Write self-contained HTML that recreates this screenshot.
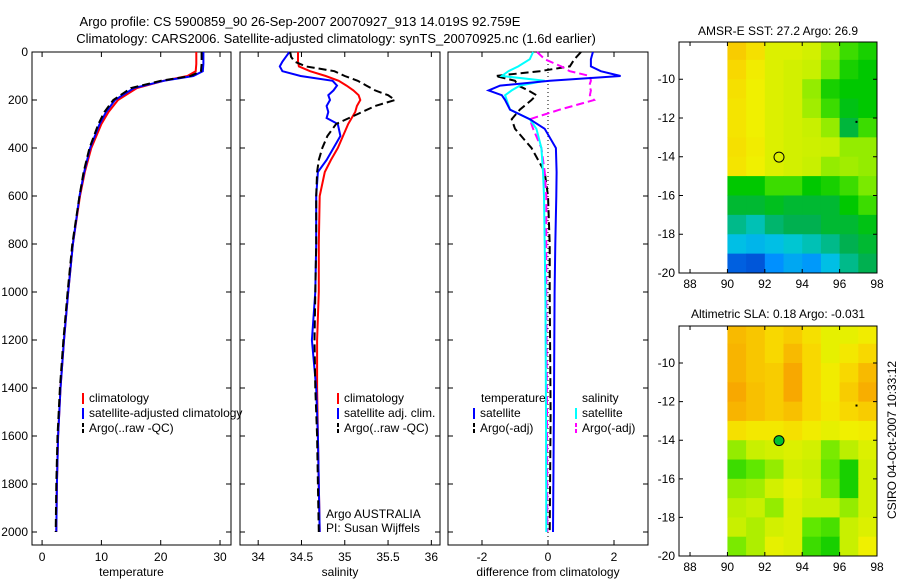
<!DOCTYPE html>
<html><head><meta charset="utf-8"><style>
html,body{margin:0;padding:0;background:#fff;}
svg{display:block;font-family:"Liberation Sans",sans-serif;}
</style></head><body>
<svg id="fig" width="900" height="580" viewBox="0 0 900 580" xmlns="http://www.w3.org/2000/svg">
<text x="300" y="26" text-anchor="middle" font-size="13">Argo profile: CS 5900859_90 26-Sep-2007 20070927_913 14.019S 92.759E</text>
<text x="336" y="43" text-anchor="middle" font-size="13">Climatology: CARS2006. Satellite-adjusted climatology: synTS_20070925.nc (1.6d earlier)</text>
<text x="778" y="35" text-anchor="middle" font-size="12">AMSR-E SST: 27.2 Argo: 26.9</text>
<text x="778" y="318" text-anchor="middle" font-size="12">Altimetric SLA: 0.18 Argo: -0.031</text>
<text transform="translate(896,440) rotate(-90)" text-anchor="middle" font-size="12">CSIRO 04-Oct-2007 10:33:12</text>
</svg>
<script>
// ---- profile data ----
const depthT = [0,50,80,100,120,150,200,250,300,400,500,600,800,1000,1200,1400,1600,1800,2000];
const tempClim = [26.0,26.0,25.9,24.5,20.5,16,12.8,11.2,10.0,8.3,7.2,6.4,5.2,4.4,3.7,3.1,2.7,2.5,2.4];
const tempSat = [27.2,27.2,27.1,25.5,20.5,15.5,12.3,10.8,9.7,8.1,7.1,6.3,5.2,4.4,3.7,3.1,2.7,2.5,2.4];
const tempArgo = [26.9,26.9,26.8,25.0,20.0,15.0,12.0,10.5,9.5,8.0,7.0,6.3,5.1,4.3,3.6,3.0,2.6,2.4,2.3];
const depthS = [0,20,40,60,80,100,120,140,160,180,200,225,250,275,300,350,400,450,500,600,800,1000,1200,1400,1600,1800,2000];
const salClim = [34.46,34.46,34.46,34.47,34.6,34.78,34.93,35.02,35.1,35.16,35.18,35.14,35.12,35.08,35.04,34.98,34.92,34.84,34.77,34.71,34.7,34.7,34.68,34.68,34.69,34.7,34.71];
const salSat = [34.36,34.32,34.28,34.25,34.28,34.49,34.86,34.91,34.87,34.81,34.83,34.79,34.81,34.79,34.92,34.95,34.87,34.79,34.69,34.67,34.67,34.66,34.62,34.67,34.69,34.7,34.71];
const salArgo = [34.37,34.38,34.42,34.55,34.88,35.0,35.15,35.25,35.35,35.5,35.58,35.35,35.2,35.05,34.9,34.8,34.74,34.7,34.68,34.67,34.67,34.66,34.65,34.66,34.68,34.69,34.7];
const depthD = [0,30,60,80,100,120,140,160,180,200,240,280,320,400,500,600,800,1000,1500,2000];
const dTempSat = [1.36,1.3,1.3,1.6,2.2,0.06,-1.45,-1.8,-1.4,-1.3,-1.15,-0.55,-0.1,0.24,0.26,0.25,0.22,0.2,0.18,0.15];
const dSalSat = [-0.45,-0.55,-0.9,-1.2,-1.4,-0.1,-0.85,-1.1,-1.3,-1.25,-1.15,-0.55,-0.35,-0.2,-0.15,-0.12,-0.1,-0.08,-0.06,-0.05];
const dTempArgo = [1.0,0.8,0.66,-0.25,-1.6,-1.0,-0.9,-0.6,-0.35,-0.5,-0.85,-1.1,-1.0,-0.5,-0.1,0,0.05,0.05,0.08,0.05];
const dSalArgo = [-0.33,-0.1,0.4,0.66,1.27,1.3,1.25,1.3,1.27,1.4,0.36,-0.55,-0.45,-0.2,-0.1,-0.05,-0.05,-0.05,-0.03,-0.02];
const depthTicks = [0,200,400,600,800,1000,1200,1400,1600,1800,2000];
const tempTicks = [0,10,20,30];
const salTicks = [34,34.5,35,35.5,36];
const diffTicks = [-2,0,2];
// ---- map data (rows lat -8..-20 step 1, cols lon 90..98 step 1), values 0-1 colour index ----
const sstGrid = [
[0.82,0.78,0.7,0.7,0.68,0.62,0.55,0.52],
[0.8,0.75,0.7,0.68,0.66,0.6,0.52,0.5],
[0.78,0.74,0.7,0.68,0.62,0.52,0.5,0.5],
[0.77,0.74,0.7,0.68,0.63,0.55,0.48,0.5],
[0.77,0.74,0.7,0.68,0.66,0.62,0.44,0.55],
[0.78,0.75,0.7,0.68,0.67,0.66,0.62,0.62],
[0.77,0.74,0.7,0.68,0.66,0.62,0.63,0.62],
[0.5,0.5,0.55,0.55,0.5,0.52,0.55,0.6],
[0.45,0.45,0.47,0.45,0.45,0.45,0.5,0.55],
[0.38,0.35,0.4,0.42,0.42,0.45,0.45,0.48],
[0.3,0.28,0.3,0.33,0.35,0.38,0.42,0.45],
[0.1,0.08,0.2,0.25,0.22,0.3,0.38,0.42]];
const slaGrid = [
[0.85,0.83,0.8,0.82,0.78,0.72,0.72,0.75],
[0.86,0.83,0.8,0.85,0.8,0.72,0.76,0.8],
[0.86,0.83,0.82,0.88,0.8,0.75,0.8,0.85],
[0.88,0.84,0.82,0.88,0.8,0.75,0.82,0.87],
[0.86,0.84,0.82,0.84,0.8,0.76,0.8,0.82],
[0.78,0.76,0.76,0.78,0.75,0.72,0.74,0.75],
[0.62,0.66,0.68,0.7,0.68,0.6,0.65,0.7],
[0.55,0.58,0.62,0.68,0.66,0.58,0.52,0.68],
[0.62,0.63,0.68,0.72,0.68,0.6,0.52,0.68],
[0.65,0.66,0.62,0.7,0.66,0.66,0.62,0.68],
[0.66,0.64,0.68,0.7,0.58,0.56,0.66,0.7],
[0.6,0.64,0.72,0.7,0.55,0.52,0.66,0.74]];
const latTicks = [-10,-12,-14,-16,-18,-20];
const lonTicks = [88,90,92,94,96,98];
const argoLon = 92.759, argoLat = -14.019;

const NS="http://www.w3.org/2000/svg";
const svg=document.getElementById('fig');
function el(tag,attrs,parent){const e=document.createElementNS(NS,tag);for(const k in attrs)e.setAttribute(k,attrs[k]);(parent||svg).appendChild(e);return e;}
const Y0=52,Y1=545;
const yD=d=>Y0+d*0.24;
const panels=[
 {x0:32,x1:231,v0:-1.7,v1:31.85,name:'temperature'},
 {x0:240,x1:440,v0:33.79,v1:36.1,name:'salinity'},
 {x0:448,x1:648,v0:-3.03,v1:3.03,name:'difference'}];
panels.forEach(p=>{p.x=v=>p.x0+(v-p.v0)/(p.v1-p.v0)*(p.x1-p.x0);});
function axesBox(p,ticks,label,showY){
 const r=el('rect',{x:p.x0,y:Y0,width:p.x1-p.x0,height:Y1-Y0,fill:'none',stroke:'#000','stroke-width':1});
 
 
 ticks.forEach(t=>{const x=p.x(t);
  const tk=el('path',{d:`M${x},${Y1}v-5M${x},${Y0}v5`,stroke:'#000'});
  
  
  const tl=el('text',{x:x,y:561,'text-anchor':'middle','font-size':12});tl.textContent=String(t);
  
  
 });
 depthTicks.forEach(d=>{const y=yD(d);
  const tk=el('path',{d:`M${p.x0},${y}h5M${p.x1},${y}h-5`,stroke:'#000'});
  
  
  if(showY){const tl=el('text',{x:p.x0-4,y:y+4,'text-anchor':'end','font-size':12});tl.textContent=String(d);
   
   }
 });
 const xl=el('text',{x:(p.x0+p.x1)/2,y:576,'text-anchor':'middle','font-size':12});xl.textContent=label;
 
 
}
axesBox(panels[0],tempTicks,'temperature',true);
axesBox(panels[1],salTicks,'salinity',false);
axesBox(panels[2],diffTicks,'difference from climatology',false);
// zero line panel3
const zl=el('line',{x1:panels[2].x(0),x2:panels[2].x(0),y1:Y0,y2:Y1,stroke:'#000','stroke-dasharray':'1,3'});


function series(p,depths,vals,color,dash,name){
 const pts=depths.map((d,i)=>`${p.x(vals[i]).toFixed(1)},${yD(d).toFixed(1)}`).join(' ');
 const a={points:pts,fill:'none',stroke:color,'stroke-width':2};
 if(dash)a['stroke-dasharray']=dash;
 const l=el('polyline',a);
 
 
}
series(panels[0],depthT,tempClim,'#f00',null,'temp-climatology-line');
series(panels[0],depthT,tempSat,'#00f',null,'temp-satellite-line');
series(panels[0],depthT,tempArgo,'#000','8,4','temp-argo-line');
series(panels[1],depthS,salClim,'#f00',null,'sal-climatology-line');
series(panels[1],depthS,salSat,'#00f',null,'sal-satellite-line');
series(panels[1],depthS,salArgo,'#000','8,4','sal-argo-line');
series(panels[2],depthD,dTempArgo,'#000','8,4','diff-temp-argo-line');
series(panels[2],depthD,dSalArgo,'#f0f','8,4','diff-sal-argo-line');
series(panels[2],depthD,dSalSat,'#0ff',null,'diff-sal-satellite-line');
series(panels[2],depthD,dTempSat,'#00f',null,'diff-temp-satellite-line');
function legend(x,y,color,dash,txt,name){
 const a={x1:x,x2:x,y1:y-9,y2:y+2,stroke:color,'stroke-width':2};if(dash)a['stroke-dasharray']=dash;
 const l=el('line',a);
 
 
 const t=el('text',{x:x+6,y:y,'font-size':12});t.textContent=txt;
 
 
}
legend(83,402,'#f00',null,'climatology','legend-temp-climatology');
legend(83,417,'#00f',null,'satellite-adjusted climatology','legend-temp-satellite');
legend(83,432,'#000','4,2','Argo(..raw -QC)','legend-temp-argo');
legend(338,402,'#f00',null,'climatology','legend-sal-climatology');
legend(338,417,'#00f',null,'satellite adj. clim.','legend-sal-satellite');
legend(338,432,'#000','4,2','Argo(..raw -QC)','legend-sal-argo');
const lt=el('text',{x:481,y:402,'font-size':12});lt.textContent='temperature';


const ls=el('text',{x:582,y:402,'font-size':12});ls.textContent='salinity';


legend(474,417,'#00f',null,'satellite','legend-diff-temp-satellite');
legend(474,432,'#000','4,2','Argo(-adj)','legend-diff-temp-argo');
legend(576,417,'#0ff',null,'satellite','legend-diff-sal-satellite');
legend(576,432,'#f0f','4,2','Argo(-adj)','legend-diff-sal-argo');
const a1=el('text',{x:326,y:518,'font-size':12});a1.textContent='Argo AUSTRALIA';


const a2=el('text',{x:326,y:532,'font-size':12});a2.textContent='PI: Susan Wijffels';



// ---- maps ----
const stops=[[0,[0,48,192]],[0.2,[0,144,255]],[0.32,[0,200,224]],[0.42,[0,176,80]],[0.5,[0,200,0]],[0.58,[96,232,0]],[0.66,[200,240,0]],[0.74,[240,240,0]],[0.8,[248,216,0]],[0.88,[248,168,0]],[1,[255,112,0]]];
function cmap(v){for(let i=1;i<stops.length;i++){if(v<=stops[i][0]){const a=stops[i-1],b=stops[i],f=(v-a[0])/(b[0]-a[0]);const c=a[1].map((q,k)=>Math.round(q+(b[1][k]-q)*f));return `rgb(${c})`;}}return 'rgb(255,112,0)';}
function drawMap(name,top,bottom,grid,filled){
 const X0=679,X1=877,lonA=87.41,lonB=98.0,latTop=-8.08,latBot=-20.0;
 const mx=lon=>X0+(lon-lonA)/(lonB-lonA)*(X1-X0);
 const my=lat=>top+(latTop-lat)/(latTop-latBot)*(bottom-top);
 grid.forEach((row,r)=>row.forEach((v,c)=>{
  const la0=Math.min(-8-r,latTop),la1=-9-r,lo0=90+c,lo1=91+c;
  const rc=el('rect',{x:mx(lo0),y:my(la0),width:mx(lo1)-mx(lo0)+0.5,height:my(la1)-my(la0)+0.5,fill:cmap(v)});
  
  
 }));
 const b=el('rect',{x:X0,y:top,width:X1-X0,height:bottom-top,fill:'none',stroke:'#000'});
 
 
 latTicks.forEach(l=>{const y=my(l);
  const tk=el('path',{d:`M${X0},${y}h4M${X1},${y}h-4`,stroke:'#000'});
  
  
  const t=el('text',{x:X0-4,y:y+4,'text-anchor':'end','font-size':12});t.textContent=String(l);
  
  
 });
 lonTicks.forEach(l=>{const x=mx(l);
  const tk=el('path',{d:`M${x},${bottom}v-4M${x},${top}v4`,stroke:'#000'});
  
  
  const t=el('text',{x:x,y:bottom+15,'text-anchor':'middle','font-size':12});t.textContent=String(l);
  
  
 });
 const ci=el('circle',{cx:mx(argoLon),cy:my(argoLat),r:5,fill:filled?'#00c030':'none',stroke:'#000'});
 
 
 const dt=el('rect',{x:mx(96.85),y:my(-12.15),width:2,height:2,fill:'#000'});
 
 
}
drawMap('sst-map',42,273,sstGrid,false);
drawMap('sla-map',326,556,slaGrid,true);
</script>
</body></html>
